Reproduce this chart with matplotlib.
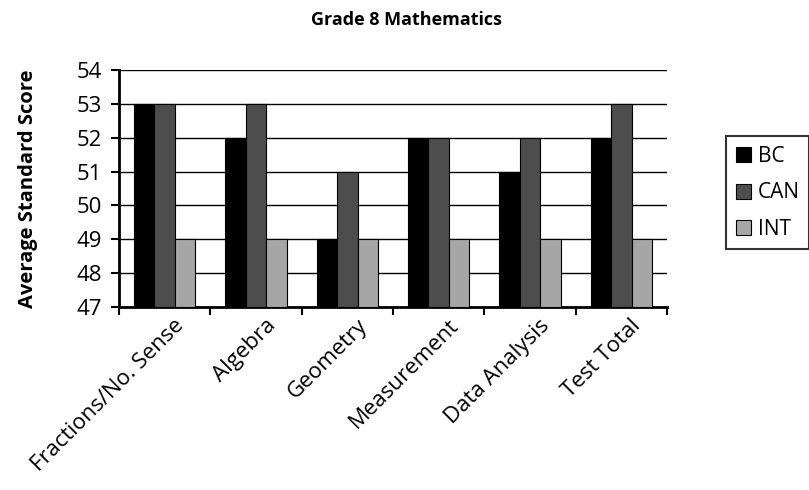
import matplotlib
matplotlib.use("Agg")
import matplotlib.pyplot as plt
import numpy as np

categories = ["Fractions/No. Sense", "Algebra", "Geometry", "Measurement", "Data Analysis", "Test Total"]
bc = [53, 52, 49, 52, 51, 52]
can = [53, 53, 51, 52, 52, 53]
intl = [49, 49, 49, 49, 49, 49]
series_names = ["BC", "CAN", "INT"]
colors = ["#000000", "#4d4d4d", "#a6a6a6"]

plt.rcParams['font.family'] = ['Open Sans', 'DejaVu Sans']

fig = plt.figure(figsize=(8.09, 4.9), dpi=100)
ax = fig.add_axes([119/809, 1-307/490, (667-119)/809, (307-70)/490])

x = np.arange(len(categories))
w = 0.225
for i, (vals, name, col) in enumerate(zip([bc, can, intl], series_names, colors)):
    ax.bar(x + (i-1)*w, np.array(vals)-47, bottom=47, width=w, color=col,
           edgecolor="#000000", linewidth=0.8, label=name, zorder=3)

ax.set_ylim(47, 54)
ax.set_xlim(-0.5, len(categories)-0.5)
ax.set_yticks(range(47, 55))
ax.yaxis.grid(True, color="black", linewidth=1.0, zorder=0)
ax.set_axisbelow(True)
ax.set_xticks(np.arange(len(categories)+1)-0.5, minor=False)
ax.set_xticklabels([])
ax.set_xticks(x + 0.1, minor=True)
ax.set_xticklabels(categories, minor=True, rotation=45, ha="right", rotation_mode="anchor", fontsize=16)
ax.tick_params(axis="x", which="minor", length=0, pad=6)
ax.tick_params(axis="x", which="major", length=6, width=1.5, direction="out")
ax.tick_params(axis="y", length=6, width=1.5, direction="out", labelsize=16, pad=6)
for s in ["top", "right"]:
    ax.spines[s].set_visible(False)
ax.spines["left"].set_linewidth(2)
ax.spines["bottom"].set_linewidth(2)

ax.set_ylabel("Average Standard Score", fontsize=14.5, fontweight="bold", labelpad=28)
fig.text(406/809, 1-20/490, "Grade 8 Mathematics", ha="center", va="center", fontsize=13, fontweight="bold")

leg = fig.legend(loc="upper left", bbox_to_anchor=(716/809, 1-126/490), frameon=True, fancybox=False,
                 edgecolor="black", fontsize=15, handlelength=0.75, handleheight=0.75, handletextpad=0.3,
                 borderpad=0.45, labelspacing=0.75)
leg.get_frame().set_linewidth(1.5)

fig.savefig("out.png", dpi=100)
